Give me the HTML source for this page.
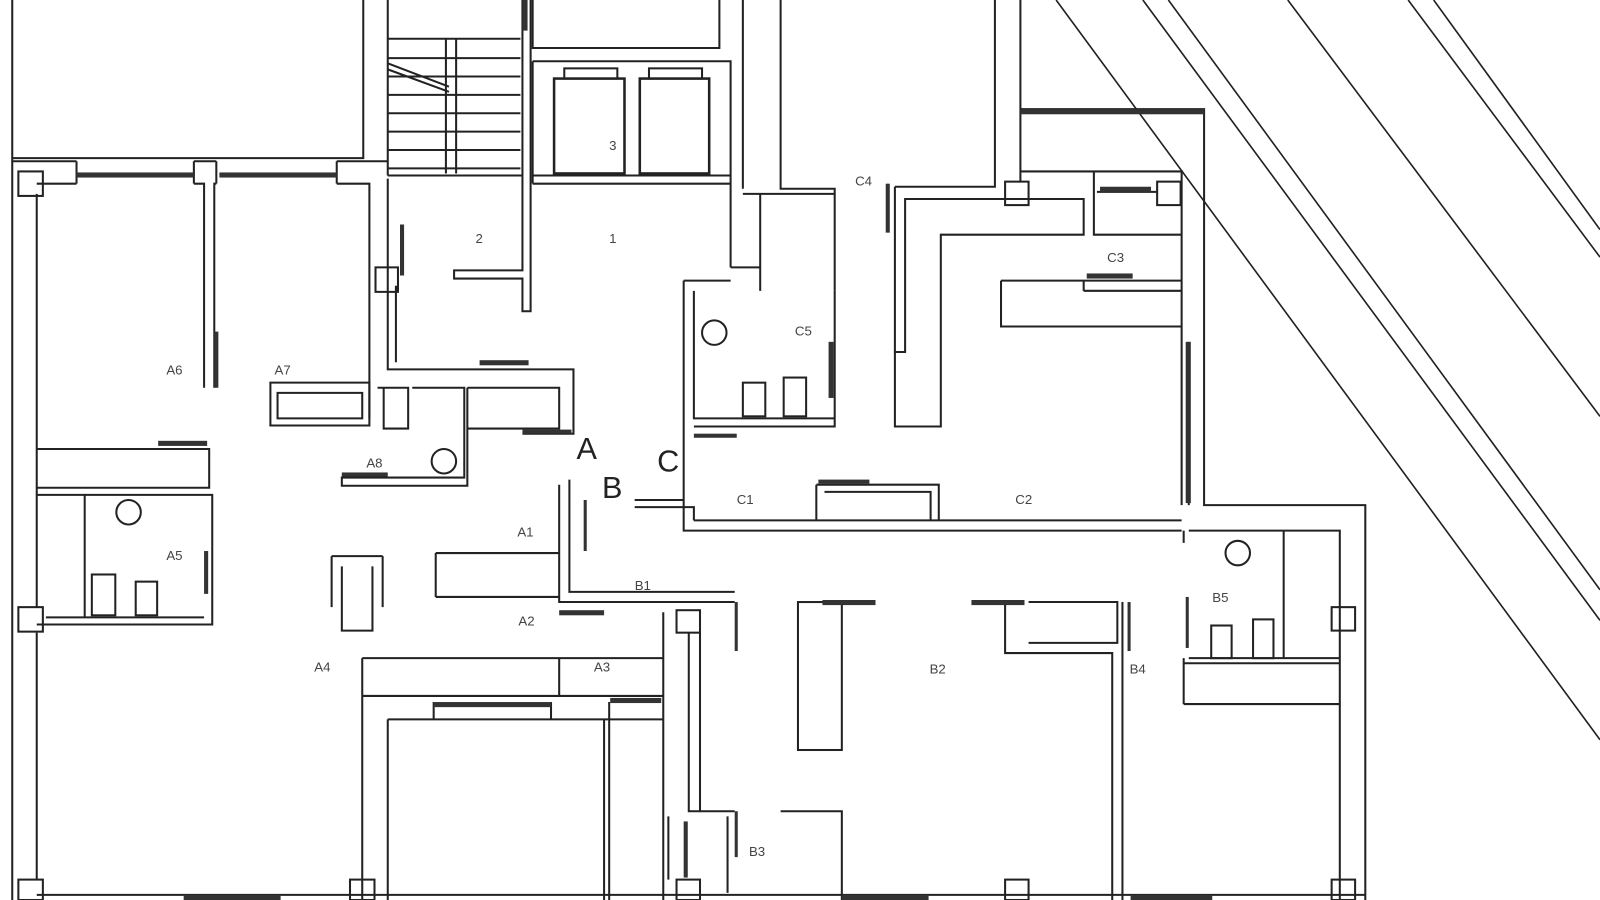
<!DOCTYPE html>
<html><head><meta charset="utf-8"><style>
html,body{margin:0;padding:0;background:#fff;width:1600px;height:900px;overflow:hidden}
svg{display:block}
text{font-family:"Liberation Sans",sans-serif;fill:#444;font-size:13px}
.b{font-size:30px;fill:#222}
</style></head><body>
<svg width="1600" height="900" viewBox="0 0 1568 882" preserveAspectRatio="none" xmlns="http://www.w3.org/2000/svg">
<g fill="none" stroke="#222" stroke-width="2">
<!-- diagonals -->
<path d="M1035,0 L1568,725 M1120,0 L1568,608 M1145,0 L1568,578 M1262,0 L1568,408 M1380,0 L1568,252 M1405,0 L1568,225" stroke-width="1.6"/>
<!-- left outer -->
<path d="M12,0 V882 M36,190 V595 M36,620 V862"/>
<path d="M12,155 H356 V0"/>
<path d="M12,158 H75 M190,158 H212 M330,158 H380"/>
<path d="M36,180 H75 M190,180 H200 V380 M210,380 V180 H212 M330,180 H362 V410"/>
<path d="M75,158 V180 M190,158 V180 M212,158 V180 M330,158 V180"/>
<!-- A6 area -->
<path d="M36,440 H205 V478 H36 M36,485 H208 V612 H36 M83,485 V605 M45,605 H200"/>
<rect x="90" y="563" width="23" height="40"/><rect x="133" y="570" width="21" height="33"/>
<circle cx="126" cy="502" r="12"/>
<path d="M265,375 H362 V417 H265 Z M272,385 H355 V410 H272 Z"/>
<!-- stair -->
<path d="M380,0 V172 M380,38 H510 M380,57 H510 M380,75 H510 M380,93 H510 M380,111 H510 M380,129 H510 M380,147 H510 M380,165 H510 M380,172 H512"/>
<path d="M437,38 V170 M447,38 V170 M380,62 L440,85 M380,68 L440,90"/>
<path d="M512,0 V265 H445 V273 H512 V305 H520 V0"/>
<!-- elevators -->
<path d="M522,0 V47 H705 V0"/>
<path d="M522,60 H716 V262 M522,60 V180 M522,172 H716 M522,180 H716"/>
<rect x="543" y="77" width="69" height="93" stroke-width="2.5"/><rect x="627" y="77" width="68" height="93" stroke-width="2.5"/>
<rect x="553" y="67" width="52" height="10"/><rect x="636" y="67" width="52" height="10"/>
<path d="M728,0 V185 M765,0 V185 H818 V285 M728,190 H818 M745,190 V285 M716,262 H745 V285"/>
<!-- corridor walls -->
<path d="M380,175 V362 H562 V425 H512 M388,280 V355 M368,262 H390 V286 H368 Z"/>
<path d="M370,380 H400 V420 H376 V380 M404,380 H455 V468 H335 V476 H458 V380 M458,380 H548 V420 H458"/>
<circle cx="435" cy="452" r="12"/>
<!-- C area -->
<path d="M670,275 V520 H1158 M680,285 V410 H818 V285 M670,275 H716 M680,418 H818 V410"/>
<circle cx="700" cy="326" r="12"/>
<rect x="728" y="375" width="22" height="33"/><rect x="768" y="370" width="22" height="38"/>
<path d="M877,183 H975 V0 M877,183 V418 H922 V230 H1062 V195 H887 V345 H877"/>
<path d="M1000,0 V107 H1180 V495 H1338 V882 M1000,107 V168 H1158 V495 M1000,168 V178"/>
<rect x="985" y="178" width="23" height="23"/><rect x="1134" y="178" width="23" height="23"/>
<path d="M1072,168 V230 H1158 M1075,188 H1134"/>
<path d="M981,275 H1158 M981,275 V320 H1158 M1062,285 H1158 M1062,275 V285"/>
<path d="M1165,335 V495"/>
<path d="M680,510 H1158 M622,490 H670 M622,497 H680 V510 M800,475 H920 V510 M800,475 V510 M808,482 H912 V510"/>
<!-- A/B area -->
<path d="M548,475 V590 H720 M558,470 V580 H720 M427,542 H548 M427,585 H548 M427,542 V585"/>
<path d="M325,545 H375 M325,545 V595 M375,545 V595 M335,555 V618 H365 V555"/>
<path d="M355,645 H650 M355,682 H650 M355,645 V882 M380,705 V882 M380,705 H650 M548,645 V682 M592,705 V882 M597,705 V882 M650,600 V882"/>
<path d="M425,688 V705 M540,688 V705 M597,688 V705"/>
<rect x="663" y="598" width="23" height="22"/>
<path d="M675,620 V795 H720 M686,620 V795 M655,800 V862 M765,795 H825 V882 M713,800 V875"/>
<rect x="782" y="590" width="43" height="145"/>
<path d="M985,590 V640 H1090 V882 M1008,590 H1095 V630 H1008 M1100,590 V882"/>
<path d="M1165,520 H1313 V882 M1160,520 V532 M1160,650 H1313 M1160,690 H1313 M1160,645 V690 M1165,645 H1313 M1258,520 V645"/>
<rect x="1187" y="613" width="20" height="32"/><rect x="1228" y="607" width="20" height="38"/>
<circle cx="1213" cy="542" r="12"/>
<rect x="1305" y="595" width="23" height="23"/>
<rect x="18" y="168" width="24" height="24"/><rect x="18" y="595" width="24" height="24"/>
<path d="M36,877 H1338"/>
<rect x="18" y="862" width="24" height="20"/><rect x="343" y="862" width="24" height="20"/><rect x="663" y="862" width="23" height="20"/><rect x="985" y="862" width="23" height="20"/><rect x="1305" y="862" width="23" height="20"/>
</g>
<!-- dark window/door bars -->
<g fill="#333">
<rect x="75" y="169" width="115" height="5"/><rect x="215" y="169" width="115" height="5"/>
<rect x="512" y="0" width="5" height="30"/>
<rect x="392" y="220" width="4" height="50"/><rect x="210" y="325" width="4" height="55"/>
<rect x="155" y="432" width="48" height="5"/><rect x="470" y="353" width="48" height="5"/>
<rect x="512" y="421" width="48" height="4"/><rect x="335" y="463" width="45" height="4"/>
<rect x="680" y="425" width="42" height="4"/><rect x="812" y="335" width="5" height="55"/>
<rect x="868" y="180" width="4" height="48"/><rect x="1065" y="268" width="45" height="5"/>
<rect x="1078" y="183" width="50" height="5"/><rect x="1000" y="107" width="180" height="5"/>
<rect x="1162" y="335" width="5" height="158"/><rect x="802" y="470" width="50" height="4"/>
<rect x="200" y="540" width="4" height="42"/><rect x="548" y="598" width="44" height="5"/>
<rect x="572" y="490" width="3" height="50"/><rect x="720" y="590" width="3" height="48"/>
<rect x="806" y="588" width="52" height="5"/><rect x="952" y="588" width="52" height="5"/>
<rect x="1105" y="590" width="3" height="48"/><rect x="1162" y="585" width="3" height="50"/>
<rect x="425" y="688" width="115" height="5"/><rect x="598" y="684" width="50" height="5"/>
<rect x="670" y="805" width="4" height="55"/><rect x="720" y="795" width="3" height="45"/>
<rect x="180" y="877" width="95" height="5"/><rect x="825" y="877" width="85" height="5"/><rect x="1108" y="877" width="80" height="5"/>
</g>
<text x="466" y="238">2</text><text x="597" y="238">1</text><text x="597" y="147">3</text>
<text x="163" y="367">A6</text><text x="269" y="367">A7</text><text x="359" y="458">A8</text>
<text x="163" y="549">A5</text><text x="507" y="526">A1</text><text x="508" y="613">A2</text>
<text x="582" y="658">A3</text><text x="308" y="658">A4</text><text x="622" y="578">B1</text>
<text x="911" y="660">B2</text><text x="734" y="839">B3</text><text x="1107" y="660">B4</text>
<text x="1188" y="590">B5</text><text x="722" y="494">C1</text><text x="995" y="494">C2</text>
<text x="1085" y="257">C3</text><text x="838" y="182">C4</text><text x="779" y="329">C5</text>
<text class="b" x="565" y="450">A</text><text class="b" x="590" y="488">B</text><text class="b" x="644" y="462">C</text>
</svg>
</body></html>
